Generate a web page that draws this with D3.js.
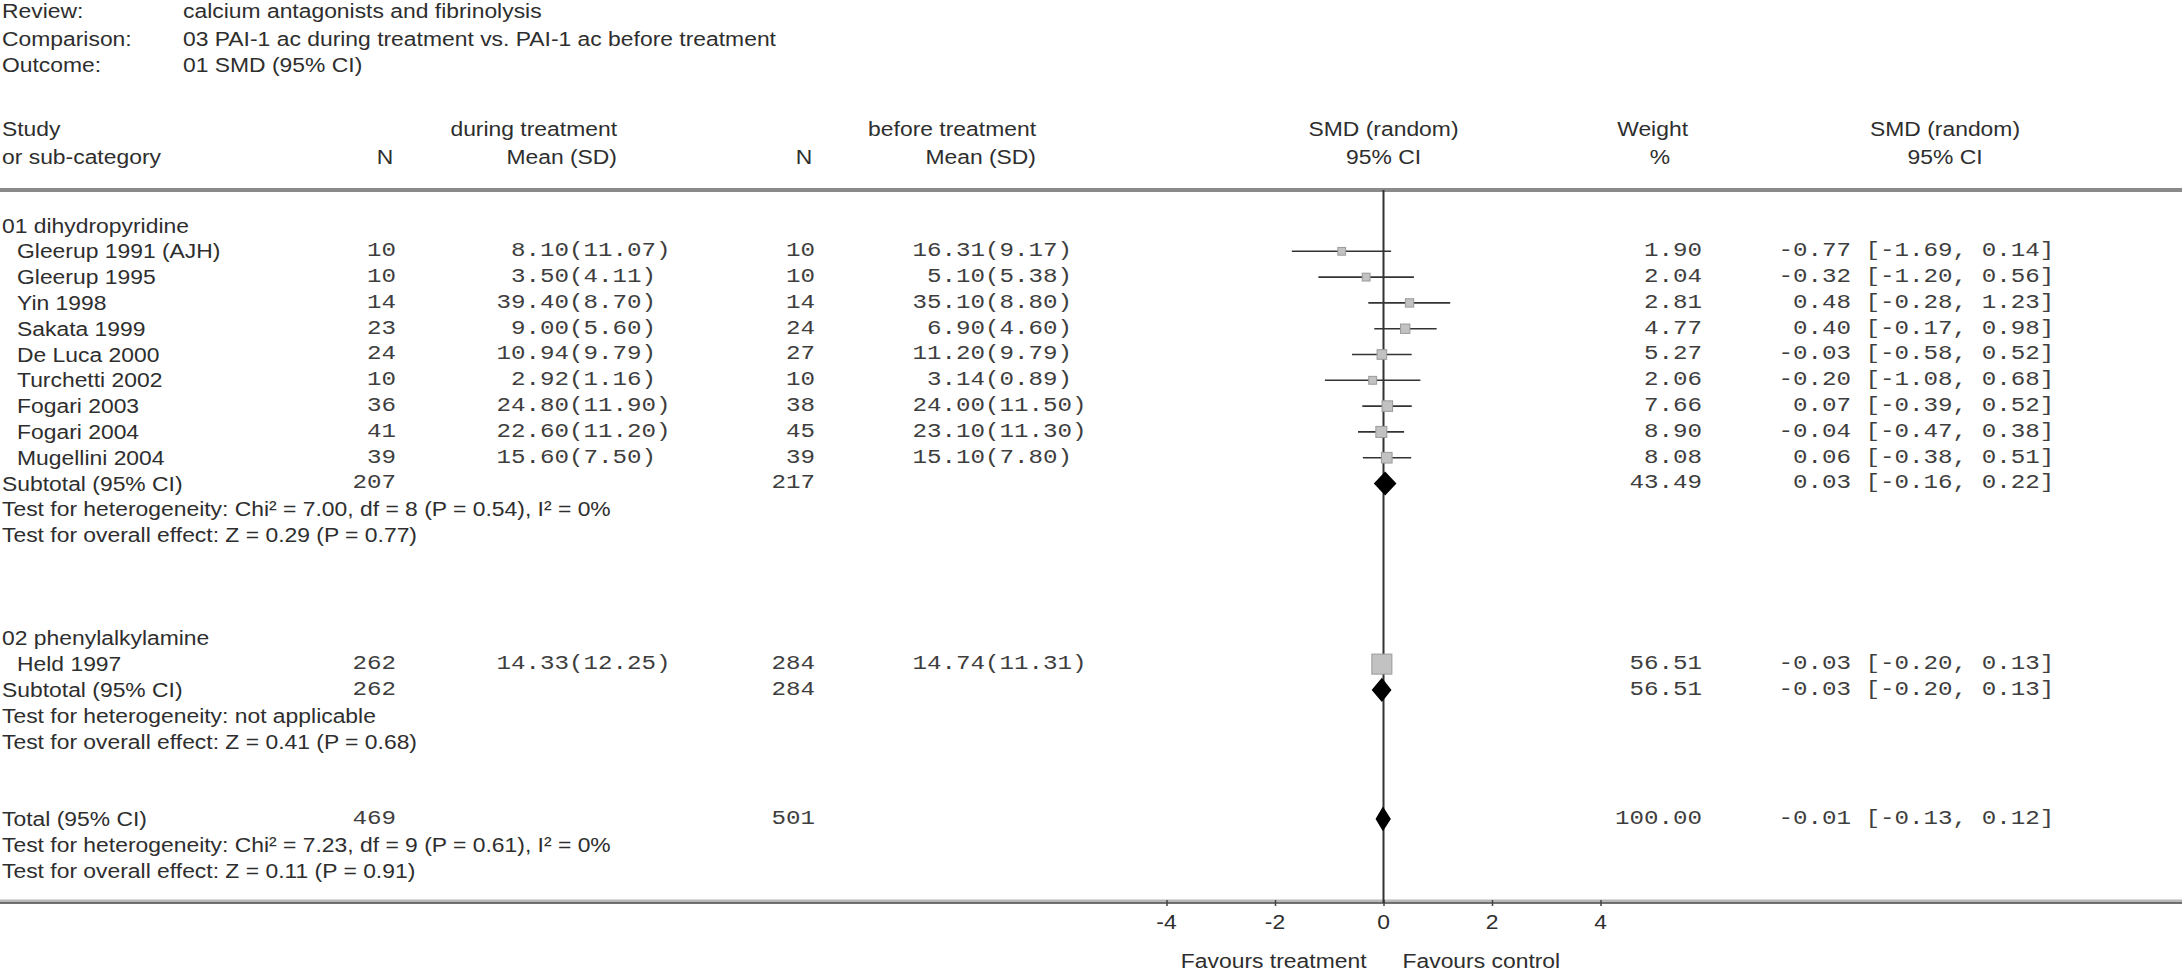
<!DOCTYPE html>
<html><head><meta charset="utf-8">
<script src="https://cdn.jsdelivr.net/npm/d3@7/dist/d3.min.js"></script>
<style>
html,body{margin:0;padding:0;background:#fff;}
svg{display:block;}
</style></head><body>
<svg id="chart" width="2182" height="974"></svg>
<script>
// ---------------- DATA ----------------
const metaLabels = ["Review:", "Comparison:", "Outcome:"];
const metaValues = ["calcium antagonists and fibrinolysis",
  "03 PAI-1 ac during treatment vs. PAI-1 ac before treatment",
  "01 SMD (95% CI)"];
const groupNames = ["01 dihydropyridine", "02 phenylalkylamine"];
const studies = ["Gleerup 1991 (AJH)", "Gleerup 1995", "Yin 1998", "Sakata 1999", "De Luca 2000",
  "Turchetti 2002", "Fogari 2003", "Fogari 2004", "Mugellini 2004", "Held 1997"];
const studyGroup = [0,0,0,0,0,0,0,0,0,1];
const nTreat = [10,10,14,23,24,10,36,41,39,262];
const meanTreat = [8.10,3.50,39.40,9.00,10.94,2.92,24.80,22.60,15.60,14.33];
const sdTreat = [11.07,4.11,8.70,5.60,9.79,1.16,11.90,11.20,7.50,12.25];
const nCtrl = [10,10,14,24,27,10,38,45,39,284];
const meanCtrl = [16.31,5.10,35.10,6.90,11.20,3.14,24.00,23.10,15.10,14.74];
const sdCtrl = [9.17,5.38,8.80,4.60,9.79,0.89,11.50,11.30,7.80,11.31];
const weights = [1.90,2.04,2.81,4.77,5.27,2.06,7.66,8.90,8.08,56.51];
const smd = [-0.77,-0.32,0.48,0.40,-0.03,-0.20,0.07,-0.04,0.06,-0.03];
const ciLow = [-1.69,-1.20,-0.28,-0.17,-0.58,-1.08,-0.39,-0.47,-0.38,-0.20];
const ciHigh = [0.14,0.56,1.23,0.98,0.52,0.68,0.52,0.38,0.51,0.13];

const pooledLabels = ["Subtotal (95% CI)", "Subtotal (95% CI)", "Total (95% CI)"];
const pooledNTreat = [207,262,469];
const pooledNCtrl = [217,284,501];
const pooledWeight = [43.49,56.51,100.00];
const pooledSmd = [0.03,-0.03,-0.01];
const pooledLow = [-0.16,-0.20,-0.13];
const pooledHigh = [0.22,0.13,0.12];
const hetTexts = ["Test for heterogeneity: Chi\u00b2 = 7.00, df = 8 (P = 0.54), I\u00b2 = 0%",
  "Test for heterogeneity: not applicable",
  "Test for heterogeneity: Chi\u00b2 = 7.23, df = 9 (P = 0.61), I\u00b2 = 0%"];
const effectTexts = ["Test for overall effect: Z = 0.29 (P = 0.77)",
  "Test for overall effect: Z = 0.41 (P = 0.68)",
  "Test for overall effect: Z = 0.11 (P = 0.91)"];
const axisTicks = [-4,-2,0,2,4];
const favourLabels = ["Favours treatment", "Favours control"];

// ---------------- LAYOUT ----------------
const W = 2182, H = 974;
const SANS = "'Liberation Sans', Arial, sans-serif";
const MONO = "'Liberation Mono', 'Courier New', monospace";
const FS = 21, SXS = 1.09;   // sans size / horizontal stretch
const FM = 20, SXM = 1.21;   // mono size / horizontal stretch
const TXT = "#2e2e2e", NUM = "#3e3e3e";

const svg = d3.select("#chart");
const x = d3.scaleLinear().domain([-4,4]).range([1166.5,1600.5]);
const row = d3.scaleLinear().domain([0,26]).range([225.5, 225.5 + 26*25.8]);
const boxSize = d3.scaleSqrt().domain([0,100]).range([5,25]);

const groupRow = [0,16];
const studyRow = [1,2,3,4,5,6,7,8,9,17];
const pooledRow = [10,18,23];

const col = {
  metaVal: 183, indent: 17,
  nT: 396, meanT: 569, meanTEnd: 617,
  nC: 815, meanC: 985, meanCEnd: 1036,
  wHdr: 1688, wPct: 1660, w: 1702, est: 1851, ciHdr: 1945
};

function txt(g, xx, yy, s, anchor, mono) {
  const grp = g.append("g").attr("transform", `translate(${xx},${yy}) scale(${mono ? SXM : SXS},1)`);
  grp.append("text").attr("x", 0).attr("y", 0)
    .attr("dominant-baseline","central")
    .attr("text-anchor", anchor || "start")
    .style("font-family", mono ? MONO : SANS).style("font-size", (mono ? FM : FS) + "px")
    .style("fill", mono ? NUM : TXT).style("white-space","pre")
    .text(s);
  return grp;
}
const f2 = d3.format(".2f");
const fmt = v => f2(v).replace("\u2212","-");

// meta
const meta = svg.append("g");
const metaY = [11, 39, 65];
metaLabels.forEach((l,i) => { txt(meta, 2, metaY[i], l); txt(meta, col.metaVal, metaY[i], metaValues[i]); });

// column headers
const hdr = svg.append("g");
txt(hdr, 2, 129, "Study"); txt(hdr, 2, 157, "or sub-category");
txt(hdr, col.meanTEnd, 129, "during treatment", "end");
txt(hdr, col.nT - 11, 157, "N", "middle"); txt(hdr, col.meanTEnd, 157, "Mean (SD)", "end");
txt(hdr, col.meanCEnd, 129, "before treatment", "end");
txt(hdr, col.nC - 11, 157, "N", "middle"); txt(hdr, col.meanCEnd, 157, "Mean (SD)", "end");
txt(hdr, x(0), 129, "SMD (random)", "middle"); txt(hdr, x(0), 157, "95% CI", "middle");
txt(hdr, col.wHdr, 129, "Weight", "end"); txt(hdr, col.wPct, 157, "%", "middle");
txt(hdr, col.ciHdr, 129, "SMD (random)", "middle"); txt(hdr, col.ciHdr, 157, "95% CI", "middle");

// header rule
svg.append("line").attr("x1",0).attr("x2",W).attr("y1",190).attr("y2",190)
  .attr("stroke","#8a8a8a").attr("stroke-width",4);

// bottom rule + axis
const axisY = 903;
svg.append("line").attr("x1",0).attr("x2",W).attr("y1",axisY-2).attr("y2",axisY-2)
  .attr("stroke","#b8b8b8").attr("stroke-width",3);
svg.append("line").attr("x1",0).attr("x2",W).attr("y1",axisY).attr("y2",axisY)
  .attr("stroke","#444").attr("stroke-width",1.5);
const axG = svg.append("g").attr("transform",`translate(0,${axisY-3})`)
  .call(d3.axisBottom(x).tickValues(axisTicks).tickSize(6).tickFormat(d => ""));
axG.select(".domain").remove();
axG.selectAll(".tick line").attr("stroke","#444").attr("stroke-width",1.5);
axisTicks.forEach(t => txt(svg, x(t), 922, String(t), "middle"));

txt(svg, x(0)-17, 961, favourLabels[0], "end");
txt(svg, x(0)+19, 961, favourLabels[1], "start");

// zero line
svg.append("line").attr("x1",x(0)).attr("x2",x(0)).attr("y1",190).attr("y2",axisY)
  .attr("stroke","#333").attr("stroke-width",2);

// groups
groupNames.forEach((g,i) => txt(svg, 2, row(groupRow[i]), g));

// studies
const sg = svg.append("g");
studies.forEach((s,i) => {
  const yy = row(studyRow[i]);
  txt(sg, col.indent, yy, s);
  txt(sg, col.nT, yy, String(nTreat[i]), "end", true);
  txt(sg, col.meanT, yy, fmt(meanTreat[i]), "end", true);
  txt(sg, col.meanT, yy, "(" + fmt(sdTreat[i]) + ")", "start", true);
  txt(sg, col.nC, yy, String(nCtrl[i]), "end", true);
  txt(sg, col.meanC, yy, fmt(meanCtrl[i]), "end", true);
  txt(sg, col.meanC, yy, "(" + fmt(sdCtrl[i]) + ")", "start", true);
  txt(sg, col.w, yy, fmt(weights[i]), "end", true);
  txt(sg, col.est, yy, fmt(smd[i]), "end", true);
  txt(sg, col.est, yy, " [" + fmt(ciLow[i]) + ", " + fmt(ciHigh[i]) + "]", "start", true);
  sg.append("line").attr("x1", x(ciLow[i])).attr("x2", x(ciHigh[i])).attr("y1", yy).attr("y2", yy)
    .attr("stroke","#333").attr("stroke-width",1.6);
  const b = boxSize(weights[i]);
  sg.append("rect").attr("x", x(smd[i]) - b/2).attr("y", yy - b/2).attr("width", b).attr("height", b)
    .attr("fill","#c2c2c2").attr("stroke","#9a9a9a").attr("stroke-width",1);
});

// pooled
const pg = svg.append("g");
pooledLabels.forEach((l,i) => {
  const yy = row(pooledRow[i]);
  txt(pg, 2, yy, l);
  txt(pg, col.nT, yy, String(pooledNTreat[i]), "end", true);
  txt(pg, col.nC, yy, String(pooledNCtrl[i]), "end", true);
  txt(pg, col.w, yy, fmt(pooledWeight[i]), "end", true);
  txt(pg, col.est, yy, fmt(pooledSmd[i]), "end", true);
  txt(pg, col.est, yy, " [" + fmt(pooledLow[i]) + ", " + fmt(pooledHigh[i]) + "]", "start", true);
  txt(pg, 2, row(pooledRow[i]+1), hetTexts[i]);
  txt(pg, 2, row(pooledRow[i]+2), effectTexts[i]);
  const h = 11;
  const pts = [[x(pooledLow[i]), yy],[x(pooledSmd[i]), yy-h],[x(pooledHigh[i]), yy],[x(pooledSmd[i]), yy+h]];
  pg.append("path").attr("d", d3.line()(pts) + "Z").attr("fill","#000").attr("stroke","#000").attr("stroke-width",1.5);
});
</script>
</body></html>
